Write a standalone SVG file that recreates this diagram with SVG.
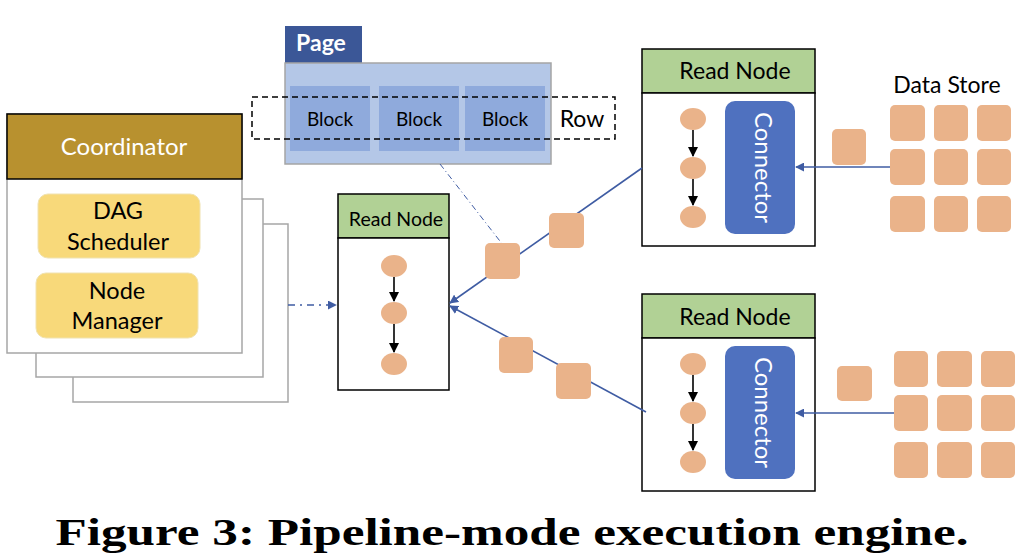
<svg xmlns="http://www.w3.org/2000/svg" width="1030" height="560" viewBox="0 0 1030 560">
<style>
  .t { font-family: Lato, "Open Sans", "Liberation Sans", sans-serif; fill: #000; }
  .w { fill: #fff; }
  .stack { fill: #fff; stroke: #a6a6a6; stroke-width: 1.5; }
  .yel { fill: #f8d97a; stroke: #f0e2b0; stroke-width: 1; }
  .hdr { fill: #b1d195; stroke: #000; stroke-width: 1.5; }
  .body { fill: #fff; stroke: #000; stroke-width: 1.5; }
  .conn { fill: #4f71bf; }
  .sq { fill: #eab38a; }
  .el { fill: #eab38a; }
  .blk { fill: #8faadc; }
  .bl { stroke: #3f5ca3; stroke-width: 1.6; fill: none; }
  .bk { stroke: #000; stroke-width: 1.6; fill: none; }
</style>
<defs>
  <marker id="ab" viewBox="0 0 10 10" refX="9" refY="5" markerWidth="9" markerHeight="9" markerUnits="userSpaceOnUse" orient="auto">
    <path d="M0,0 L10,5 L0,10 z" fill="#3f5ca3"/>
  </marker>
  <marker id="ak" viewBox="0 0 10 10" refX="9" refY="5" markerWidth="10" markerHeight="10" markerUnits="userSpaceOnUse" orient="auto">
    <path d="M0,0 L10,5 L0,10 z" fill="#000"/>
  </marker>
</defs>
<rect width="1030" height="560" fill="#fff"/>

<!-- Coordinator -->
<g id="coordinator">
  <rect class="stack" x="73" y="224" width="215" height="178"/>
  <rect class="stack" x="36" y="199" width="227" height="178"/>
  <rect class="stack" x="7" y="114" width="235" height="239"/>
  <rect x="7" y="114" width="235" height="65" fill="#b8912f" stroke="#000" stroke-width="1.5"/>
  <text class="t w" x="124" y="155" font-size="24" text-anchor="middle">Coordinator</text>
  <rect class="yel" x="38" y="194" width="162" height="64" rx="10"/>
  <text class="t" x="118" y="219" font-size="23.5" text-anchor="middle">DAG</text>
  <text class="t" x="118" y="250" font-size="23.5" text-anchor="middle">Scheduler</text>
  <rect class="yel" x="36" y="273" width="162" height="65" rx="10"/>
  <text class="t" x="117" y="299" font-size="23.5" text-anchor="middle">Node</text>
  <text class="t" x="117" y="329" font-size="23.5" text-anchor="middle">Manager</text>
</g>

<!-- Page -->
<g id="page">
  <rect x="285" y="26" width="77" height="37" fill="#3b5797"/>
  <text class="t w" x="321" y="51" font-size="23" font-weight="bold" text-anchor="middle">Page</text>
  <rect x="285" y="63" width="266" height="101" fill="#b4c7e7" stroke="#a5a5a5" stroke-width="1.5"/>
  <rect class="blk" x="290" y="86" width="80" height="65"/>
  <rect class="blk" x="379" y="86" width="80" height="65"/>
  <rect class="blk" x="465" y="86" width="80" height="65"/>
  <text class="t" x="330" y="126" font-size="19" text-anchor="middle">Block</text>
  <text class="t" x="419" y="126" font-size="19" text-anchor="middle">Block</text>
  <text class="t" x="505" y="126" font-size="19" text-anchor="middle">Block</text>
  <rect x="252" y="97" width="363" height="42" fill="none" stroke="#000" stroke-width="1.5" stroke-dasharray="6,4"/>
  <text class="t" x="582" y="127" font-size="23" text-anchor="middle">Row</text>
</g>

<!-- Middle Read Node -->
<g id="read-node-mid">
  <rect class="hdr" x="338" y="194" width="111" height="44"/>
  <text class="t" x="396" y="226" font-size="19.5" text-anchor="middle">Read Node</text>
  <rect class="body" x="338" y="238" width="111" height="152"/>
  <ellipse class="el" cx="394" cy="266" rx="13" ry="11"/>
  <ellipse class="el" cx="394" cy="313" rx="13" ry="11"/>
  <ellipse class="el" cx="394" cy="364" rx="13" ry="11"/>
  <line class="bk" x1="394" y1="277" x2="394" y2="301" marker-end="url(#ak)"/>
  <line class="bk" x1="394" y1="324" x2="394" y2="352" marker-end="url(#ak)"/>
</g>

<!-- Top Read Node -->
<g id="read-node-top">
  <rect class="hdr" x="642" y="49" width="173" height="44"/>
  <text class="t" x="735" y="79" font-size="23" text-anchor="middle">Read Node</text>
  <rect class="body" x="642" y="93" width="173" height="153"/>
  <ellipse class="el" cx="693" cy="119" rx="13" ry="11"/>
  <ellipse class="el" cx="693" cy="168" rx="13" ry="11"/>
  <ellipse class="el" cx="693" cy="217" rx="13" ry="11"/>
  <line class="bk" x1="693" y1="130" x2="693" y2="156" marker-end="url(#ak)"/>
  <line class="bk" x1="693" y1="179" x2="693" y2="205" marker-end="url(#ak)"/>
  <rect class="conn" x="725" y="101" width="70" height="133" rx="10"/>
  <text class="t w" transform="translate(755,167.5) rotate(90)" font-size="24" text-anchor="middle">Connector</text>
</g>

<!-- Bottom Read Node -->
<g id="read-node-bottom">
  <rect class="hdr" x="642" y="294" width="173" height="44"/>
  <text class="t" x="735" y="325" font-size="23" text-anchor="middle">Read Node</text>
  <rect class="body" x="642" y="338" width="173" height="153"/>
  <ellipse class="el" cx="693" cy="364" rx="13" ry="11"/>
  <ellipse class="el" cx="693" cy="413" rx="13" ry="11"/>
  <ellipse class="el" cx="693" cy="462" rx="13" ry="11"/>
  <line class="bk" x1="693" y1="375" x2="693" y2="401" marker-end="url(#ak)"/>
  <line class="bk" x1="693" y1="424" x2="693" y2="450" marker-end="url(#ak)"/>
  <rect class="conn" x="725" y="346" width="70" height="133" rx="10"/>
  <text class="t w" transform="translate(755,412.5) rotate(90)" font-size="24" text-anchor="middle">Connector</text>
</g>

<!-- Connectors -->
<g id="connectors">
  <line class="bl" x1="288" y1="305" x2="336" y2="305" stroke-dasharray="7,5,2,5" marker-end="url(#ab)"/>
  <line x1="440" y1="164" x2="503" y2="245" stroke="#3f5ca3" stroke-width="1" stroke-dasharray="6,3,1,3"/>
  <line class="bl" x1="642" y1="168" x2="450" y2="303" marker-end="url(#ab)"/>
  <line class="bl" x1="646" y1="412" x2="450" y2="306" marker-end="url(#ab)"/>
  <line class="bl" x1="890" y1="167" x2="796" y2="167" marker-end="url(#ab)"/>
  <line class="bl" x1="894" y1="413" x2="796" y2="413" marker-end="url(#ab)"/>
</g>

<!-- Data blocks in transit -->
<g id="transit">
  <rect class="sq" x="485" y="243" width="35" height="36" rx="5"/>
  <rect class="sq" x="549" y="213" width="35" height="35" rx="5"/>
  <rect class="sq" x="499" y="337" width="34" height="36" rx="5"/>
  <rect class="sq" x="556" y="363" width="35" height="36" rx="5"/>
  <rect class="sq" x="832" y="129" width="34" height="36" rx="5"/>
  <rect class="sq" x="837" y="366" width="35" height="35" rx="5"/>
</g>

<!-- Data Store top -->
<g id="data-store-top">
  <text class="t" x="947" y="93" font-size="23" text-anchor="middle">Data Store</text>
  <rect class="sq" x="890" y="105" width="35" height="36" rx="5"/>
  <rect class="sq" x="934" y="105" width="34" height="36" rx="5"/>
  <rect class="sq" x="977" y="105" width="34" height="36" rx="5"/>
  <rect class="sq" x="890" y="149" width="35" height="36" rx="5"/>
  <rect class="sq" x="934" y="149" width="34" height="36" rx="5"/>
  <rect class="sq" x="977" y="149" width="34" height="36" rx="5"/>
  <rect class="sq" x="890" y="196" width="35" height="36" rx="5"/>
  <rect class="sq" x="934" y="196" width="34" height="36" rx="5"/>
  <rect class="sq" x="977" y="196" width="34" height="36" rx="5"/>
</g>

<!-- Data Store bottom -->
<g id="data-store-bottom">
  <rect class="sq" x="894" y="351" width="34" height="36" rx="5"/>
  <rect class="sq" x="937" y="351" width="35" height="36" rx="5"/>
  <rect class="sq" x="981" y="351" width="34" height="36" rx="5"/>
  <rect class="sq" x="894" y="395" width="34" height="36" rx="5"/>
  <rect class="sq" x="937" y="395" width="35" height="36" rx="5"/>
  <rect class="sq" x="981" y="395" width="34" height="36" rx="5"/>
  <rect class="sq" x="894" y="442" width="34" height="36" rx="5"/>
  <rect class="sq" x="937" y="442" width="35" height="36" rx="5"/>
  <rect class="sq" x="981" y="442" width="34" height="36" rx="5"/>
</g>

<text x="512" y="545" font-family="'Liberation Serif', 'DejaVu Serif', serif" font-size="38" font-weight="bold" text-anchor="middle" textLength="913" lengthAdjust="spacingAndGlyphs">Figure 3: Pipeline-mode execution engine.</text>
</svg>
